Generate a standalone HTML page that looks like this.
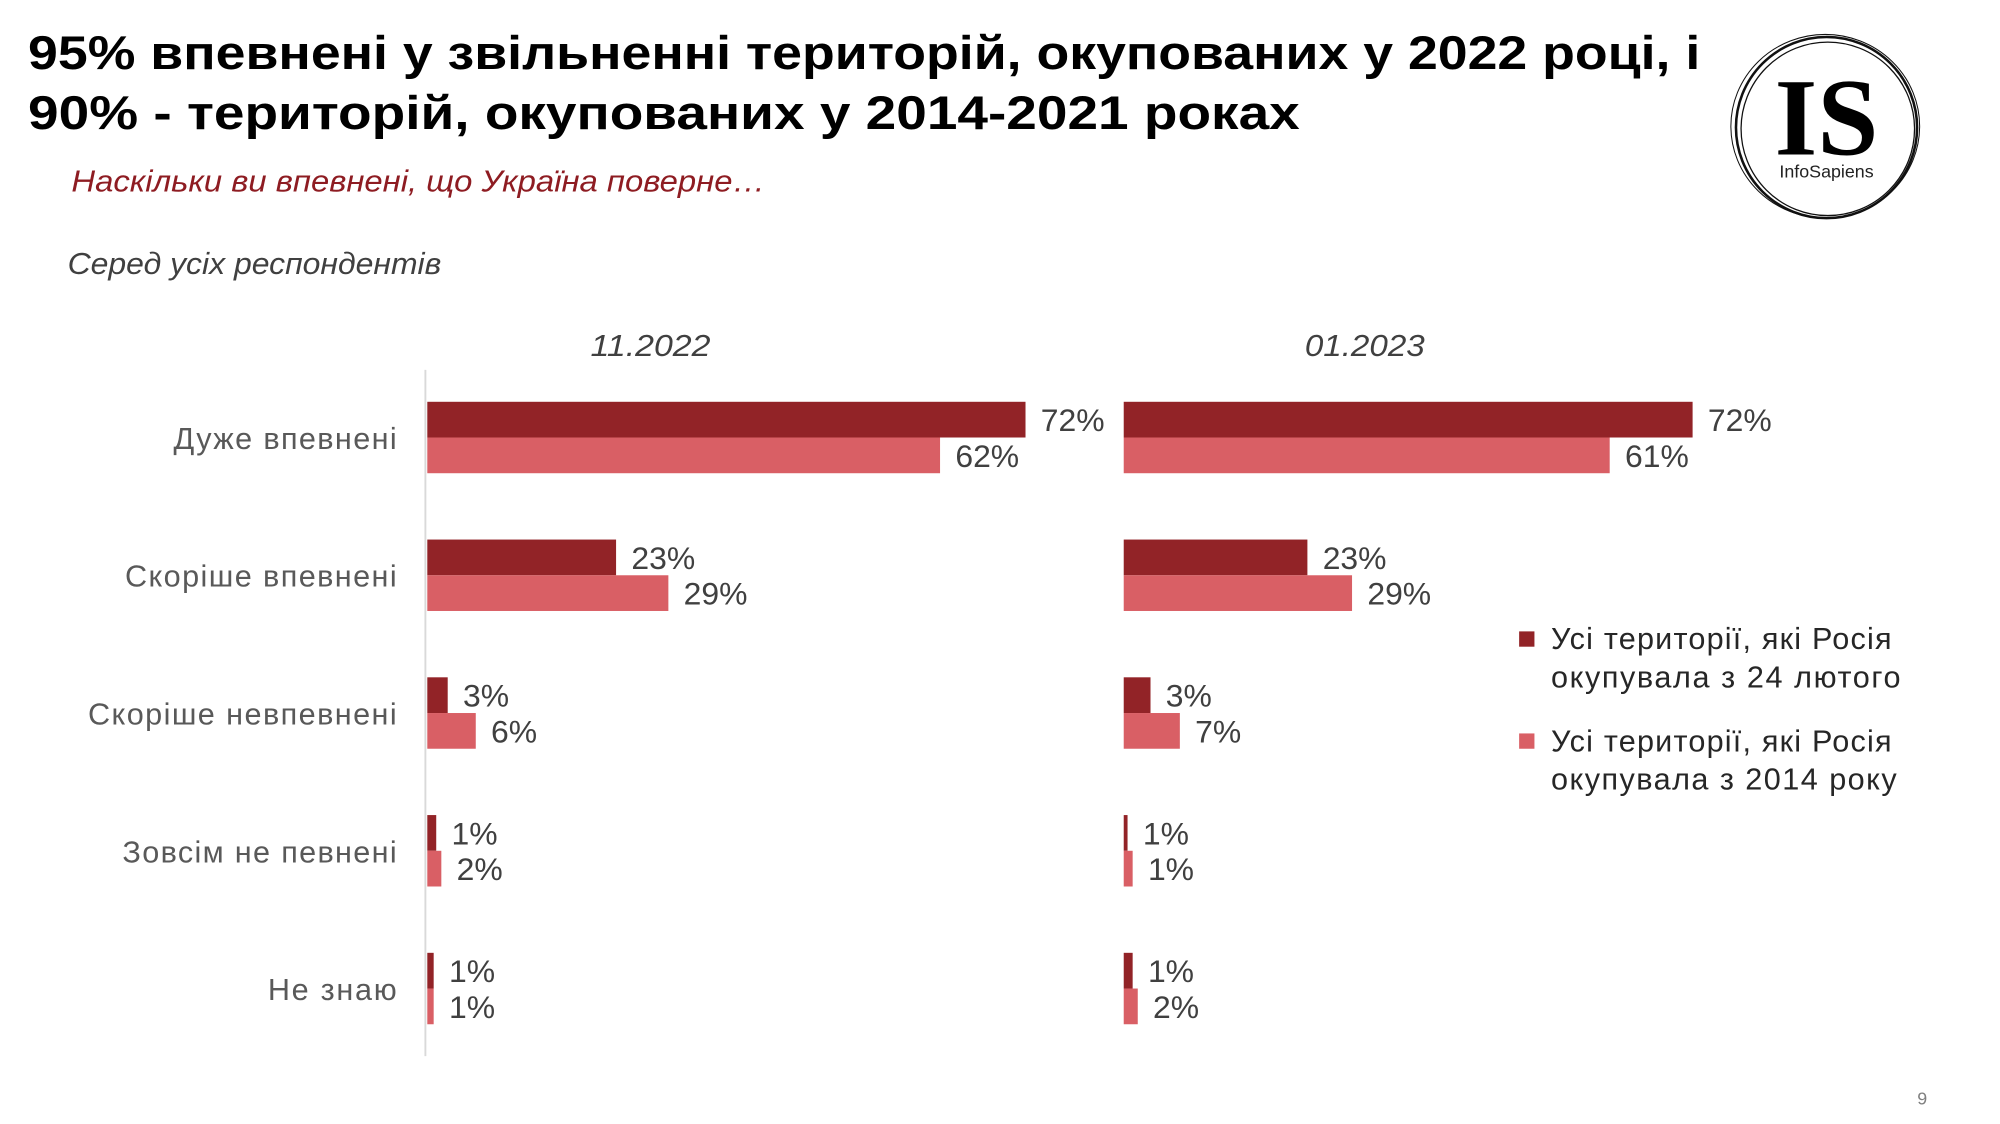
<!DOCTYPE html>
<html><head><meta charset="utf-8"><style>
html,body{margin:0;padding:0;background:#fff;}
svg{display:block;}
text{font-family:"Liberation Sans",sans-serif;}
.serif{font-family:"Liberation Serif",serif;}
</style></head><body>
<svg width="2000" height="1124" viewBox="0 0 1568 881.2" preserveAspectRatio="none" xmlns="http://www.w3.org/2000/svg">
<rect width="1568" height="881.2" fill="#fff"/>
<text x="22" y="54" font-size="37" font-weight="bold" fill="#000" textLength="1311" lengthAdjust="spacingAndGlyphs">95% впевнені у звільненні територій, окупованих у 2022 році, і</text>
<text x="22" y="101" font-size="37" font-weight="bold" fill="#000" textLength="997" lengthAdjust="spacingAndGlyphs">90% - територій, окупованих у 2014-2021 роках</text>
<text x="56" y="150" font-size="24" font-style="italic" fill="#8e1c22" textLength="544" lengthAdjust="spacingAndGlyphs">Наскільки ви впевнені, що Україна поверне…</text>
<text x="53" y="215" font-size="24" font-style="italic" fill="#404040" textLength="293" lengthAdjust="spacingAndGlyphs">Серед усіх респондентів</text>
<text x="463" y="279" font-size="24" font-style="italic" fill="#404040" textLength="94" lengthAdjust="spacingAndGlyphs">11.2022</text>
<text x="1023" y="279" font-size="24" font-style="italic" fill="#404040" textLength="94" lengthAdjust="spacingAndGlyphs">01.2023</text>
<line x1="333.5" y1="290" x2="333.5" y2="828" stroke="#d9d9d9" stroke-width="1.5"/>
<g font-size="24" fill="#595959" lengthAdjust="spacingAndGlyphs">
<text x="136" y="352" textLength="175">Дуже впевнені</text>
<text x="98" y="460" textLength="213">Скоріше впевнені</text>
<text x="69" y="568" textLength="242">Скоріше невпевнені</text>
<text x="96" y="676" textLength="215">Зовсім не певнені</text>
<text x="210" y="784" textLength="101">Не знаю</text>
</g>
<g>
<rect x="335" y="315" width="469" height="28" fill="#922327"/>
<rect x="335" y="343" width="402" height="28" fill="#d95f65"/>
<rect x="335" y="423" width="148" height="28" fill="#922327"/>
<rect x="335" y="451" width="189" height="28" fill="#d95f65"/>
<rect x="335" y="531" width="16" height="28" fill="#922327"/>
<rect x="335" y="559" width="38" height="28" fill="#d95f65"/>
<rect x="335" y="639" width="7" height="28" fill="#922327"/>
<rect x="335" y="667" width="11" height="28" fill="#d95f65"/>
<rect x="335" y="747" width="5" height="28" fill="#922327"/>
<rect x="335" y="775" width="5" height="28" fill="#d95f65"/>
<rect x="881" y="315" width="446" height="28" fill="#922327"/>
<rect x="881" y="343" width="381" height="28" fill="#d95f65"/>
<rect x="881" y="423" width="144" height="28" fill="#922327"/>
<rect x="881" y="451" width="179" height="28" fill="#d95f65"/>
<rect x="881" y="531" width="21" height="28" fill="#922327"/>
<rect x="881" y="559" width="44" height="28" fill="#d95f65"/>
<rect x="881" y="639" width="3" height="28" fill="#922327"/>
<rect x="881" y="667" width="7" height="28" fill="#d95f65"/>
<rect x="881" y="747" width="7" height="28" fill="#922327"/>
<rect x="881" y="775" width="11" height="28" fill="#d95f65"/>
</g>
<g font-size="25" fill="#404040">
<text x="816" y="338">72%</text>
<text x="749" y="366">62%</text>
<text x="495" y="446">23%</text>
<text x="536" y="474">29%</text>
<text x="363" y="554">3%</text>
<text x="385" y="582">6%</text>
<text x="354" y="662">1%</text>
<text x="358" y="690">2%</text>
<text x="352" y="770">1%</text>
<text x="352" y="798">1%</text>
<text x="1339" y="338">72%</text>
<text x="1274" y="366">61%</text>
<text x="1037" y="446">23%</text>
<text x="1072" y="474">29%</text>
<text x="914" y="554">3%</text>
<text x="937" y="582">7%</text>
<text x="896" y="662">1%</text>
<text x="900" y="690">1%</text>
<text x="900" y="770">1%</text>
<text x="904" y="798">2%</text>
</g>
<rect x="1191" y="495" width="12" height="12" fill="#922327"/>
<rect x="1191" y="575" width="12" height="12" fill="#d95f65"/>
<g font-size="24" fill="#262626" lengthAdjust="spacingAndGlyphs">
<text x="1216" y="509" textLength="267">Усі території, які Росія</text>
<text x="1216" y="539" textLength="274">окупувала з 24 лютого</text>
<text x="1216" y="589" textLength="267">Усі території, які Росія</text>
<text x="1216" y="619" textLength="271">окупувала з 2014 року</text>
</g>
<text x="1507" y="866" font-size="14" fill="#7f7f7f" text-anchor="middle">9</text>
<g fill="none" stroke="#111">
<circle cx="1432" cy="100" r="71" stroke-width="2"/>
<circle cx="1433" cy="101" r="68" stroke-width="1"/>
<ellipse cx="1431" cy="99" rx="74" ry="72" stroke-width="0.8"/>
</g>
<text class="serif" x="1432" y="121" font-size="86" font-weight="bold" fill="#000" text-anchor="middle">IS</text>
<text x="1432" y="139" font-size="14" fill="#222" text-anchor="middle">InfoSapiens</text>
</svg>
</body></html>
